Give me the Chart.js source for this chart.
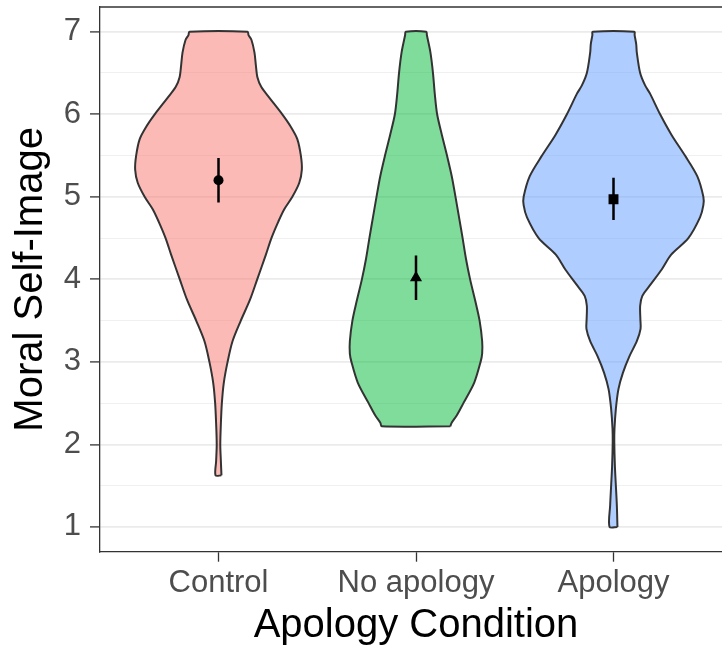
<!DOCTYPE html>
<html>
<head>
<meta charset="utf-8">
<script src="https://cdn.jsdelivr.net/npm/chart.js@4.4.1/dist/chart.umd.min.js"></script>
<style>
    html, body { margin: 0; padding: 0; background: #ffffff; }
    #wrap { width: 722px; height: 653px; position: relative; }
</style>
</head>
<body>
<div id="wrap"><canvas id="violinChart"></canvas></div>
<script>
// Categories on the discrete x axis
const categories = ['Control', 'No apology', 'Apology'];

// Violin outlines: score levels and half-widths (in category units)
const controlLevels = [1.625, 1.8, 2.0, 2.25, 2.5, 2.75, 3.0, 3.25, 3.5, 3.75, 4.0, 4.3, 4.5, 4.7, 4.85, 5.0, 5.17, 5.33, 5.5, 5.7, 5.85, 6.0, 6.2, 6.33, 6.45, 6.6, 6.75, 6.9, 6.96, 7.0];
const controlHalfWidths = [0.015, 0.012, 0.009, 0.012, 0.017, 0.027, 0.046, 0.071, 0.113, 0.159, 0.196, 0.240, 0.268, 0.303, 0.333, 0.374, 0.409, 0.422, 0.417, 0.399, 0.366, 0.323, 0.258, 0.217, 0.197, 0.189, 0.182, 0.167, 0.152, 0.147];

const noApologyLevels = [2.22, 2.26, 2.35, 2.5, 2.75, 3.0, 3.1, 3.25, 3.5, 3.75, 4.0, 4.25, 4.5, 4.75, 5.0, 5.25, 5.5, 5.75, 6.0, 6.25, 6.5, 6.75, 6.96, 7.0];
const noApologyHalfWidths = [0.174, 0.180, 0.206, 0.240, 0.295, 0.327, 0.335, 0.335, 0.322, 0.299, 0.274, 0.253, 0.236, 0.218, 0.200, 0.181, 0.157, 0.131, 0.107, 0.095, 0.086, 0.073, 0.055, 0.052];

const apologyLevels = [1.0, 1.26, 1.5, 1.74, 2.03, 2.19, 2.43, 2.67, 2.87, 3.07, 3.25, 3.4, 3.52, 3.68, 3.8, 3.92, 4.12, 4.3, 4.5, 4.75, 4.9, 5.0, 5.25, 5.5, 5.75, 6.0, 6.25, 6.35, 6.5, 6.75, 6.85, 6.96, 7.0];
const apologyHalfWidths = [0.020, 0.017, 0.012, 0.007, 0.004, 0.005, 0.012, 0.025, 0.048, 0.081, 0.118, 0.137, 0.136, 0.135, 0.146, 0.182, 0.244, 0.292, 0.379, 0.438, 0.455, 0.455, 0.424, 0.362, 0.294, 0.236, 0.185, 0.160, 0.135, 0.118, 0.115, 0.107, 0.105];

// Means with error bars
const means = [5.20, 4.02, 4.97];
const ciLower = [4.93, 3.75, 4.72];
const ciUpper = [5.47, 4.29, 5.23];
const meanShapes = ['circle', 'triangle', 'rect'];

// Y axis breaks
const yTicks = [1, 1.5, 2, 2.5, 3, 3.5, 4, 4.5, 5, 5.5, 6, 6.5, 7];

const fillColors = ['rgba(248, 118, 109, 0.5)', 'rgba(0, 186, 56, 0.5)', 'rgba(97, 156, 255, 0.5)'];
const fontFamily = "'Liberation Sans', Arial, sans-serif";

// Closed outline: up the right side, back down the left side
function violinOutline(pos, levels, halfWidths) {
    const right = levels.map((y, i) => ({ x: pos + halfWidths[i], y: y }));
    const left = levels.map((y, i) => ({ x: pos - halfWidths[i], y: y })).reverse();
    return right.concat(left, [right[0]]);
}

const violins = [
    [controlLevels, controlHalfWidths],
    [noApologyLevels, noApologyHalfWidths],
    [apologyLevels, apologyHalfWidths]
];

const datasets = [];

// Mean markers (on top)
datasets.push({
    type: 'line',
    data: means.map((m, i) => ({ x: i + 1, y: m })),
    showLine: false,
    pointStyle: meanShapes,
    pointRadius: [5, 7, 7],
    pointBackgroundColor: '#000000',
    pointBorderWidth: 0,
    order: 0
});

// Error bars
means.forEach((m, i) => {
    datasets.push({
        type: 'line',
        data: [{ x: i + 1, y: ciLower[i] }, { x: i + 1, y: ciUpper[i] }],
        borderColor: '#000000',
        borderWidth: 2.5,
        pointRadius: 0,
        order: 1
    });
});

// Violins
violins.forEach(([levels, widths], i) => {
    datasets.push({
        type: 'line',
        data: violinOutline(i + 1, levels, widths),
        borderColor: '#333333',
        borderWidth: 2,
        backgroundColor: fillColors[i],
        fill: 'shape',
        tension: 0.3,
        pointRadius: 0,
        order: 2
    });
});

// The panel runs about 10px past the right edge of the picture
const widePanel = {
    id: 'widePanel',
    afterLayout(chart) {
        const x = chart.scales.x;
        x.right = chart.width + 10;
        x.width = x.right - x.left;
        x.configure();
        chart.chartArea.right = x.right;
        chart.chartArea.width = x.right - chart.chartArea.left;
    }
};

// Top edge of the panel border
const panelTop = {
    id: 'panelTop',
    afterDraw(chart) {
        const { ctx, chartArea } = chart;
        ctx.save();
        ctx.strokeStyle = '#333333';
        ctx.lineWidth = 1.3;
        ctx.beginPath();
        ctx.moveTo(chartArea.left, chartArea.top);
        ctx.lineTo(chartArea.right, chartArea.top);
        ctx.stroke();
        ctx.restore();
    }
};

const isMajor = (ctx) => ctx.tick && Number.isInteger(ctx.tick.value);

new Chart(document.getElementById('violinChart'), {
    type: 'line',
    data: { datasets: datasets },
    options: {
        responsive: true,
        maintainAspectRatio: false,
        animation: false,
        layout: { autoPadding: false, padding: { top: 7, left: 0, right: 0, bottom: 0 } },
        plugins: {
            legend: { display: false },
            tooltip: { enabled: false }
        },
        scales: {
            x: {
                type: 'linear',
                min: 0.4,
                max: 3.6,
                afterBuildTicks: (axis) => { axis.ticks = categories.map((c, i) => ({ value: i + 1 })); },
                afterFit: (axis) => {
                    axis.height = 101.3;
                    axis.paddingLeft = 0;
                    axis.paddingRight = 0;
                },
                ticks: {
                    autoSkip: false,
                    maxRotation: 0,
                    padding: 3,
                    color: '#4D4D4D',
                    font: { family: fontFamily, size: 31 },
                    callback: (value, index) => categories[index]
                },
                grid: {
                    drawOnChartArea: false,
                    tickLength: 10,
                    tickColor: '#333333',
                    tickWidth: 1.3
                },
                border: { color: '#333333', width: 1.3 },
                title: {
                    display: true,
                    text: 'Apology Condition',
                    color: '#000000',
                    font: { family: fontFamily, size: 40 },
                    padding: { top: 0, bottom: 3 }
                }
            },
            y: {
                type: 'linear',
                min: 0.7,
                max: 7.3,
                afterBuildTicks: (axis) => { axis.ticks = yTicks.map(v => ({ value: v })); },
                afterFit: (axis) => {
                    axis.width = 100;
                    axis.paddingTop = 0;
                    axis.paddingBottom = 0;
                },
                ticks: {
                    autoSkip: false,
                    padding: 9,
                    color: '#4D4D4D',
                    font: { family: fontFamily, size: 31 },
                    callback: (value) => Number.isInteger(value) ? String(value) : ''
                },
                grid: {
                    color: (ctx) => isMajor(ctx) ? '#EBEBEB' : '#F0F0F0',
                    lineWidth: (ctx) => isMajor(ctx) ? 1.8 : 1.1,
                    tickLength: 10,
                    tickColor: (ctx) => isMajor(ctx) ? '#333333' : 'rgba(0,0,0,0)',
                    tickWidth: 1.3
                },
                border: { color: '#333333', width: 1.3 },
                title: {
                    display: true,
                    text: 'Moral Self-Image',
                    color: '#000000',
                    font: { family: fontFamily, size: 40 },
                    padding: { top: 7, bottom: 0 }
                }
            }
        }
    },
    plugins: [widePanel, panelTop]
});
</script>
</body>
</html>
